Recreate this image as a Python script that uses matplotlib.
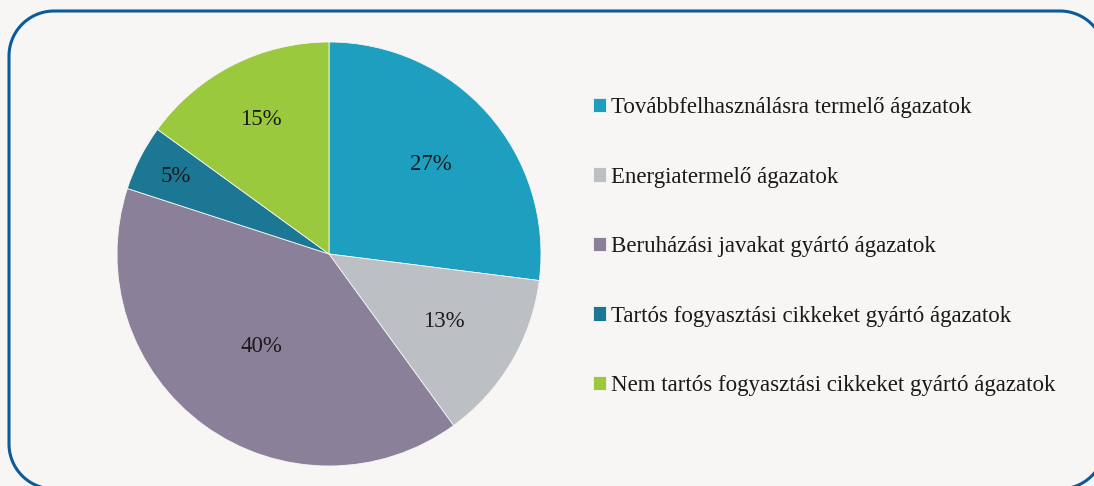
import numpy as np
import matplotlib.pyplot as plt

# data
labels = ['Továbbfelhasználásra termelő ágazatok',
          'Energiatermelő ágazatok',
          'Beruházási javakat gyártó ágazatok',
          'Tartós fogyasztási cikkeket gyártó ágazatok',
          'Nem tartós fogyasztási cikkeket gyártó ágazatok']
shares = [27, 13, 40, 5, 15]
colors = ['#1f9fc0', '#bcc0c4', '#8b8099', '#1b7793', '#9bc93d']
# per-slice label distance (fraction of radius), as placed in the original
label_dist = [0.64, 0.63, 0.54, 0.81, 0.71]

W, H = 1094, 486
plt.rcParams['font.family'] = ['Liberation Serif', 'DejaVu Serif']

fig = plt.figure(figsize=(W / 100, H / 100), dpi=100)
fig.patch.set_facecolor('#f7f6f4')
ax = fig.add_axes([0, 0, 1, 1])

# rounded frame (pixel coords, y up)
x0, x1, y0, y1, r = 9, 1105, H - 489, H - 11, 45
pts = []
for cx, cy, a0 in [(x1 - r, y1 - r, 0), (x0 + r, y1 - r, 90), (x0 + r, y0 + r, 180), (x1 - r, y0 + r, 270)]:
    a = np.deg2rad(np.linspace(a0, a0 + 90, 30))
    pts += list(zip(cx + r * np.cos(a), cy + r * np.sin(a)))
pts.append(pts[0])
fx, fy = zip(*pts)
ax.plot(fx, fy, color='#0b5a9a', lw=2.2, clip_on=False, solid_joinstyle='round')

cx, cy, rad = 329, H - 254, 212
wedges, texts, pcts = ax.pie(shares, colors=colors, startangle=90, counterclock=False,
                             center=(cx, cy), radius=rad, autopct='%1.0f%%',
                             pctdistance=0.65, frame=True,
                             wedgeprops={'edgecolor': '#f7f6f4', 'linewidth': 0.6},
                             textprops={'fontsize': 16.5, 'color': '#1a1a1a'})
ax.set_xlim(0, W)
ax.set_ylim(0, H)
ax.set_aspect('equal')
ax.axis('off')

# move the percent labels like the original
for w, t, d in zip(wedges, pcts, label_dist):
    ang = np.deg2rad((w.theta1 + w.theta2) / 2)
    t.set_position((cx + rad * d * np.cos(ang), cy + rad * d * np.sin(ang)))

leg = ax.legend(wedges, labels, loc='upper left', bbox_to_anchor=(584 / W, 1 - 88 / H),
                frameon=False, fontsize=16.5, handlelength=0.57, handleheight=0.57,
                handletextpad=0.2, labelspacing=2.115, borderaxespad=0)
for txt in leg.get_texts():
    txt.set_color('#1a1a1a')

fig.savefig('out.png', dpi=100, facecolor=fig.get_facecolor())
